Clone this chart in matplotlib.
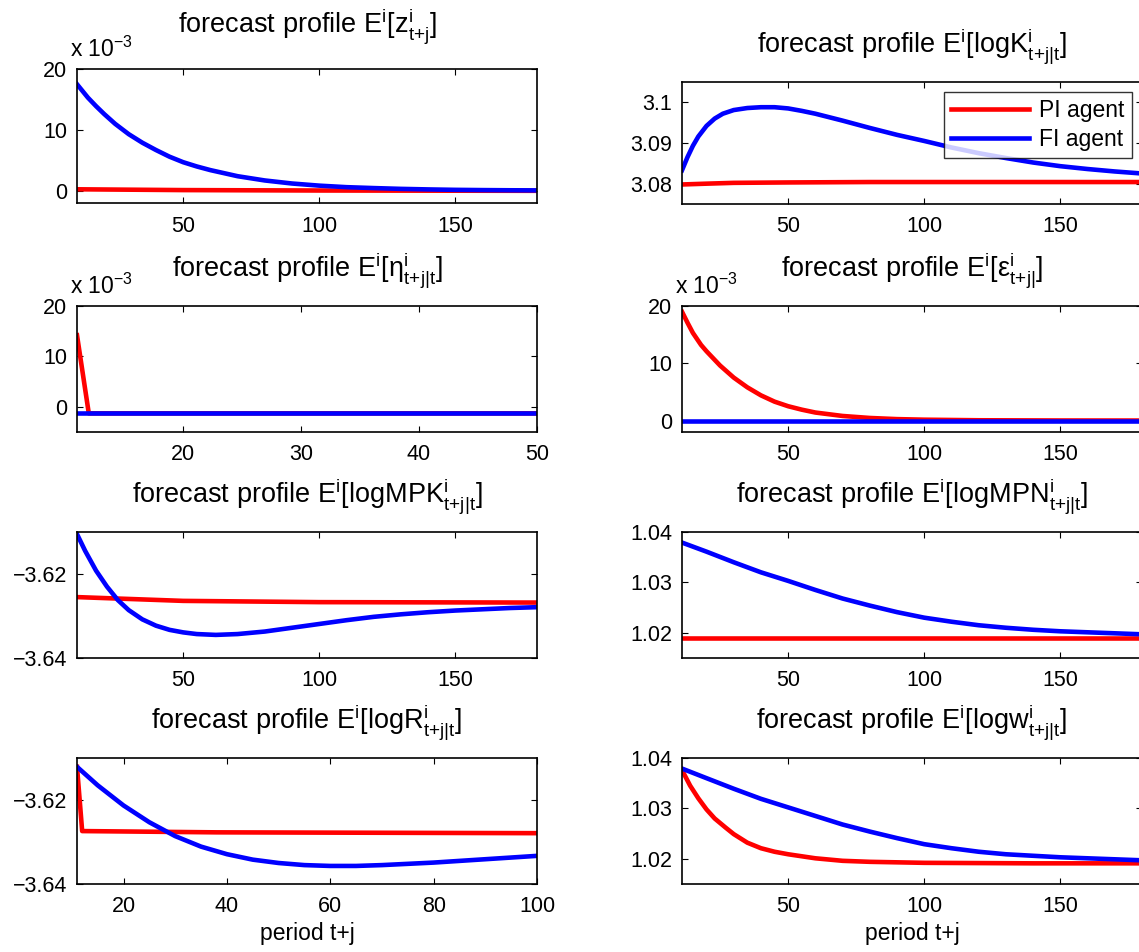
import numpy as np
import matplotlib
matplotlib.use("Agg")
import matplotlib.pyplot as plt

plt.rcParams['font.family'] = ['Liberation Sans', 'DejaVu Sans']
plt.rcParams['mathtext.fontset'] = 'custom'
plt.rcParams['mathtext.rm'] = 'Liberation Sans'
plt.rcParams['mathtext.it'] = 'Liberation Sans'
plt.rcParams['mathtext.default'] = 'regular'

# ---- data (PI agent = red, FI agent = blue) ----
# z  (x 10^-3)
z_x_fi = [11, 13, 15, 18, 21, 25, 30, 35, 40, 45, 50, 55, 60, 70, 80, 90, 100, 110, 120, 130, 140, 150, 160, 170, 180]
z_fi = [17.5, 16.4, 15.3, 13.9, 12.6, 11.0, 9.3, 7.9, 6.7, 5.6, 4.7, 4.0, 3.4, 2.4, 1.7, 1.2, 0.85, 0.6, 0.45, 0.32,
        0.23, 0.16, 0.12, 0.09, 0.07]
z_x_pi = [11, 50, 100, 180]
z_pi = [0.25, 0.12, 0.05, 0.0]

# logK
k_x_fi = [11, 13, 15, 17, 20, 23, 26, 30, 35, 40, 45, 50, 55, 60, 70, 80, 90, 100, 110, 120, 130, 140, 150, 160, 170, 180]
k_fi = [3.0833, 3.0865, 3.0893, 3.0916, 3.0942, 3.0960, 3.0972, 3.0981, 3.0986, 3.0988, 3.0988, 3.0985, 3.0979,
        3.0972, 3.0955, 3.0937, 3.0920, 3.0905, 3.0889, 3.0875, 3.0863, 3.0852, 3.0843, 3.0836, 3.0830, 3.0825]
k_x_pi = [11, 20, 30, 50, 80, 120, 180]
k_pi = [3.0798, 3.0800, 3.0802, 3.0803, 3.0804, 3.0804, 3.0804]

# eta  (x 10^-3)
eta_x_pi = [11, 12, 50]
eta_pi = [14.2, -1.3, -1.3]
eta_x_fi = [11, 50]
eta_fi = [-1.3, -1.3]

# epsilon  (x 10^-3)
eps_x_pi = [11, 13, 15, 18, 20, 25, 30, 35, 40, 45, 50, 55, 60, 70, 80, 90, 100, 120, 150, 180]
eps_pi = [19.0, 17.1, 15.3, 13.2, 12.1, 9.6, 7.5, 5.8, 4.4, 3.3, 2.5, 1.9, 1.4, 0.8, 0.45, 0.25, 0.15, 0.05, 0.01, 0.0]
eps_x_fi = [11, 180]
eps_fi = [0.0, 0.0]

# logMPK
mpk_x_fi = [11, 14, 18, 22, 26, 30, 35, 40, 45, 50, 55, 62, 70, 80, 90, 100, 110, 120, 130, 140, 150, 160, 170, 180]
mpk_fi = [-3.6105, -3.6145, -3.6192, -3.6230, -3.6262, -3.6286, -3.6308, -3.6323, -3.6333, -3.6339, -3.6343, -3.6345,
          -3.6343, -3.6337, -3.6328, -3.6319, -3.6310, -3.6302, -3.6296, -3.6291, -3.6287, -3.6284, -3.6281, -3.6279]
mpk_x_pi = [11, 50, 100, 180]
mpk_pi = [-3.6255, -3.6264, -3.6267, -3.6268]

# logMPN
mpn_x_fi = [11, 20, 30, 40, 50, 60, 70, 80, 90, 100, 110, 120, 130, 140, 150, 165, 180]
mpn_fi = [1.0379, 1.0361, 1.0340, 1.0320, 1.0303, 1.0285, 1.0268, 1.0254, 1.0241, 1.0230, 1.0222, 1.0215, 1.0210,
          1.0206, 1.0203, 1.0200, 1.0197]
mpn_x_pi = [11, 180]
mpn_pi = [1.0190, 1.0190]

# logR
r_x_fi = [11, 15, 20, 25, 30, 35, 40, 45, 50, 55, 60, 65, 70, 80, 90, 100]
r_fi = [-3.6121, -3.6165, -3.6213, -3.6253, -3.6286, -3.6311, -3.6329, -3.6342, -3.6350, -3.6355, -3.6357, -3.6357,
        -3.6355, -3.6349, -3.6341, -3.6333]
r_x_pi = [11, 12, 38, 100]
r_pi = [-3.6121, -3.6274, -3.6277, -3.6279]

# logw
w_x_fi = [11, 20, 30, 40, 50, 60, 70, 80, 90, 100, 110, 120, 130, 140, 150, 165, 180]
w_fi = [1.0379, 1.0360, 1.0339, 1.0319, 1.0302, 1.0285, 1.0268, 1.0254, 1.0241, 1.0229, 1.0221, 1.0214, 1.0209,
        1.0206, 1.0203, 1.0200, 1.0197]
w_x_pi = [11, 14, 17, 20, 23, 27, 30, 35, 40, 45, 50, 60, 70, 80, 100, 140, 180]
w_pi = [1.0376, 1.0345, 1.0320, 1.0298, 1.0280, 1.0262, 1.0249, 1.0232, 1.0221, 1.0214, 1.0209, 1.0201, 1.0196,
        1.0194, 1.0192, 1.0191, 1.0191]

panels = [
    dict(title=r'forecast profile E$^i$[z$^i_{t{+}j}$]', xpi=z_x_pi, pi=z_pi, xfi=z_x_fi, fi=z_fi,
         xlim=(11, 180), xt=[50, 100, 150], ylim=(-2, 20), yt=[0, 10, 20], ytl=['0', '10', '20'], exp=True),
    dict(title=r'forecast profile E$^i$[logK$^i_{t{+}j|t}$]', xpi=k_x_pi, pi=k_pi, xfi=k_x_fi, fi=k_fi,
         xlim=(11, 180), xt=[50, 100, 150], ylim=(3.075, 3.105), yt=[3.08, 3.09, 3.1], ytl=['3.08', '3.09', '3.1'], exp=False),
    dict(title=r'forecast profile E$^i$[η$^i_{t{+}j|t}$]', xpi=eta_x_pi, pi=eta_pi, xfi=eta_x_fi, fi=eta_fi,
         xlim=(11, 50), xt=[20, 30, 40, 50], ylim=(-5, 20), yt=[0, 10, 20], ytl=['0', '10', '20'], exp=True),
    dict(title=r'forecast profile E$^i$[ε$^i_{t{+}j|}$]', xpi=eps_x_pi, pi=eps_pi, xfi=eps_x_fi, fi=eps_fi,
         xlim=(11, 180), xt=[50, 100, 150], ylim=(-2, 20), yt=[0, 10, 20], ytl=['0', '10', '20'], exp=True),
    dict(title=r'forecast profile E$^i$[logMPK$^i_{t{+}j|t}$]', xpi=mpk_x_pi, pi=mpk_pi, xfi=mpk_x_fi, fi=mpk_fi,
         xlim=(11, 180), xt=[50, 100, 150], ylim=(-3.64, -3.61), yt=[-3.64, -3.62], ytl=['\u22123.64', '\u22123.62'], exp=False),
    dict(title=r'forecast profile E$^i$[logMPN$^i_{t{+}j|t}$]', xpi=mpn_x_pi, pi=mpn_pi, xfi=mpn_x_fi, fi=mpn_fi,
         xlim=(11, 180), xt=[50, 100, 150], ylim=(1.015, 1.04), yt=[1.02, 1.03, 1.04], ytl=['1.02', '1.03', '1.04'], exp=False),
    dict(title=r'forecast profile E$^i$[logR$^i_{t{+}j|t}$]', xpi=r_x_pi, pi=r_pi, xfi=r_x_fi, fi=r_fi,
         xlim=(11, 100), xt=[20, 40, 60, 80, 100], ylim=(-3.64, -3.61), yt=[-3.64, -3.62], ytl=['\u22123.64', '\u22123.62'], exp=False),
    dict(title=r'forecast profile E$^i$[logw$^i_{t{+}j|t}$]', xpi=w_x_pi, pi=w_pi, xfi=w_x_fi, fi=w_fi,
         xlim=(11, 180), xt=[50, 100, 150], ylim=(1.015, 1.04), yt=[1.02, 1.03, 1.04], ytl=['1.02', '1.03', '1.04'], exp=False),
]

W, H = 1139, 952
fig = plt.figure(figsize=(W / 100, H / 100), dpi=100)

# axes boxes in pixels: (left, right) per column, (top, bottom) per row/column
col_x = [(77, 537), (682, 1142)]
row_y = [[(69, 203), (82, 204)], [(306, 432), (306, 432)], [(532, 658), (532, 658)], [(758, 884), (758, 884)]]

for k, p in enumerate(panels):
    r, c = divmod(k, 2)
    x0, x1 = col_x[c]
    yt, yb = row_y[r][c]
    ax = fig.add_axes([x0 / W, 1 - yb / H, (x1 - x0) / W, (yb - yt) / H])
    ax.plot(p['xpi'], p['pi'], color='red', lw=3.3, label='PI agent', solid_joinstyle='round')
    ax.plot(p['xfi'], p['fi'], color='blue', lw=3.3, label='FI agent', solid_joinstyle='round')
    ax.set_xlim(p['xlim'])
    ax.set_ylim(p['ylim'])
    ax.set_xticks(p['xt'])
    ax.set_yticks(p['yt'])
    ax.set_yticklabels(p['ytl'])
    ax.tick_params(direction='in', top=True, right=True, length=4, width=0.8, labelsize=15.5)
    ax.tick_params(axis='x', pad=9)
    ax.tick_params(axis='y', pad=7)
    for s in ax.spines.values():
        s.set_linewidth(1.2)
    ax.set_title(p['title'], fontsize=19.5, pad=26 if k == 0 else 21)
    if p['exp']:
        ax.annotate(r'x 10$^{-3}$', xy=(0, 1), xycoords='axes fraction', xytext=(-5, 9),
                    textcoords='offset points', fontsize=16.5, ha='left', va='baseline')
    if r == 3:
        ax.set_xlabel('period t+j', fontsize=16.5, labelpad=3)
    if k == 1:
        ax.legend(loc='upper right', fontsize=16.5, frameon=True, fancybox=False, edgecolor='black',
                  handlelength=3.4, borderaxespad=0.45, borderpad=0.3, labelspacing=0.25, handletextpad=0.45)
        ax.get_legend().get_frame().set_linewidth(1.0)

fig.savefig('out.png', dpi=100)
